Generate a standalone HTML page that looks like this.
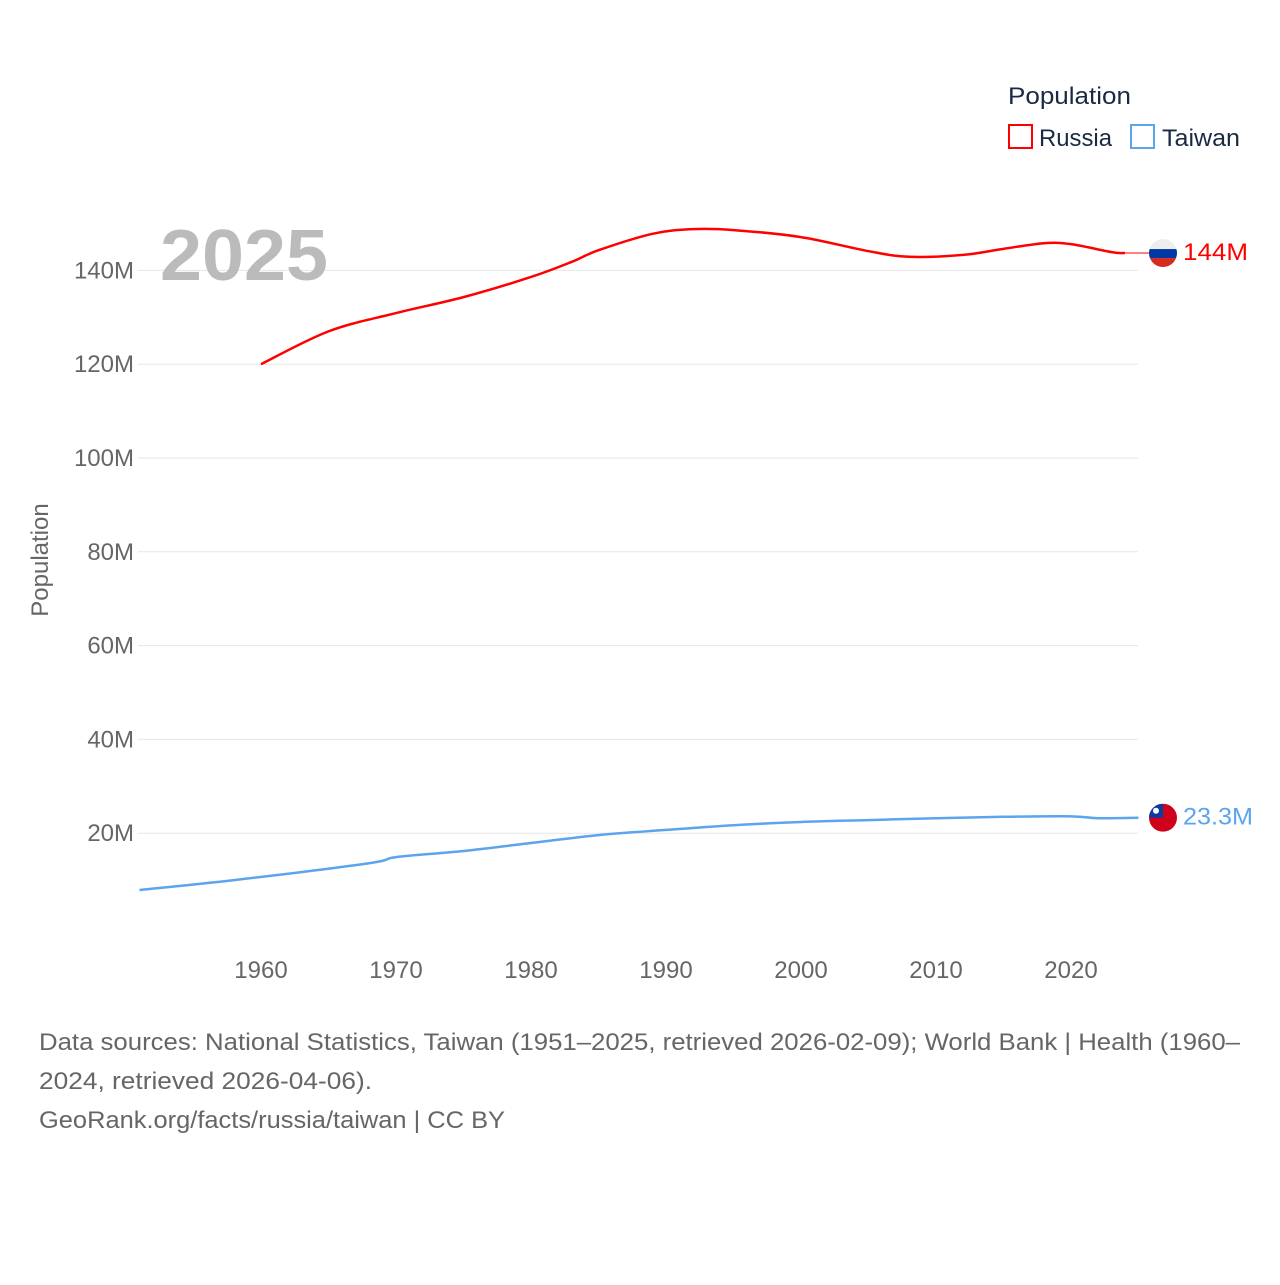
<!DOCTYPE html>
<html><head><meta charset="utf-8"><style>
body{margin:0;background:#fff;font-family:"Liberation Sans",sans-serif;}
svg text{font-family:"Liberation Sans",sans-serif;}
</style></head><body>
<svg width="1280" height="1280">
<g id="grid"></g>
<g id="yt"></g>
<g id="xt"></g>
<text x="48" y="560" transform="rotate(-90 48 560)" text-anchor="middle" font-size="24" fill="#666">Population</text>
<text x="160" y="280" font-size="72" font-weight="bold" fill="#bbb" textLength="168" lengthAdjust="spacingAndGlyphs">2025</text>
<g id="series"></g>
<g>
<text x="1008" y="104" font-size="24" fill="#1a2a44" textLength="123" lengthAdjust="spacingAndGlyphs">Population</text>
<g><rect x="1009" y="125" width="23" height="23" fill="none" stroke="#f00" stroke-width="2"/><text x="1039" y="146" font-size="24" fill="#1a2a44" textLength="73" lengthAdjust="spacingAndGlyphs">Russia</text></g>
<g><rect x="1131" y="125" width="23" height="23" fill="none" stroke="#5aa5ee" stroke-width="2"/><text x="1162" y="146" font-size="24" fill="#1a2a44" textLength="78" lengthAdjust="spacingAndGlyphs">Taiwan</text></g>
</g>
<g font-size="24" fill="#666">
<text x="39" y="1050" textLength="1201" lengthAdjust="spacingAndGlyphs">Data sources: National Statistics, Taiwan (1951–2025, retrieved 2026-02-09); World Bank | Health (1960–</text>
<text x="39" y="1089" textLength="333" lengthAdjust="spacingAndGlyphs">2024, retrieved 2026-04-06).</text>
<text x="39" y="1128" textLength="466" lengthAdjust="spacingAndGlyphs">GeoRank.org/facts/russia/taiwan | CC BY</text>
</g>
</svg>
<script>
const yTicks=[20,40,60,80,100,120,140];
const xTicks=[1960,1970,1980,1990,2000,2010,2020];
const russiaYears=[1960,1965,1970,1975,1980,1983,1985,1989,1992,1995,2000,2005,2008,2012,2015,2018,2020,2023,2024];
const russiaVals=[120.0,127.0,130.9,134.3,138.6,141.8,144.3,147.8,148.8,148.6,147.1,144.1,142.9,143.3,144.6,145.8,145.6,143.9,143.7];
const taiwanYears=[1951,1958,1968,1970,1975,1980,1985,1990,1995,2000,2005,2010,2015,2020,2022,2025];
const taiwanVals=[7.9,10.0,13.6,14.9,16.2,17.9,19.6,20.7,21.7,22.4,22.8,23.2,23.5,23.6,23.2,23.3];
const NS="http://www.w3.org/2000/svg";
const X=y=>261+(y-1960)*13.5, Y=v=>927-v*4.69;
function mk(t,a,p){const e=document.createElementNS(NS,t);for(const k in a)e.setAttribute(k,a[k]);p.appendChild(e);return e;}
const grid=document.getElementById('grid'),yt=document.getElementById('yt'),xt=document.getElementById('xt'),ser=document.getElementById('series');
yTicks.forEach(v=>{
 const l=mk('line',{x1:138,x2:1138,y1:Y(v),y2:Y(v),stroke:'#e6e6e6'},grid);
 
 
 const t=mk('text',{x:134,y:Y(v)+8,'text-anchor':'end','font-size':24,fill:'#666'},yt);t.textContent=v+'M';
 
 
});
xTicks.forEach(v=>{
 const t=mk('text',{x:X(v),y:978,'text-anchor':'middle','font-size':24,fill:'#666'},xt);t.textContent=v;
 
 
});
function smooth(pts){
 let d='M'+pts[0][0]+','+pts[0][1];
 for(let i=0;i<pts.length-1;i++){
  const p0=pts[i-1]||pts[i],p1=pts[i],p2=pts[i+1],p3=pts[i+2]||p2;
  const c1=[p1[0]+(p2[0]-p0[0])/6,p1[1]+(p2[1]-p0[1])/6];
  const c2=[p2[0]-(p3[0]-p1[0])/6,p2[1]-(p3[1]-p1[1])/6];
  d+='C'+c1+' '+c2+' '+p2;
 }
 return d;
}
function line(ys,vs,c,name){
 const p=mk('path',{d:smooth(ys.map((y,i)=>[X(y),Y(vs[i])])),fill:'none',stroke:c,'stroke-width':2.5,'stroke-linejoin':'round'},ser);
 
 
}
line(russiaYears,russiaVals,'#f00','russia-line');
line(taiwanYears,taiwanVals,'#5aa5ee','taiwan-line');
const rv=russiaVals[russiaVals.length-1],ry=Y(rv);
mk('line',{x1:X(russiaYears[russiaYears.length-1]),x2:1150,y1:ry,y2:ry,stroke:'#f00','stroke-width':1},ser);
mk('defs',{},ser).innerHTML='<clipPath id="c1"><circle cx="1163" cy="'+ry+'" r="14"/></clipPath><clipPath id="c2"><circle cx="1163" cy="'+Y(23.3)+'" r="14"/></clipPath>';
const f1=mk('g',{'clip-path':'url(#c1)'},ser);


mk('rect',{x:1149,y:ry-14,width:28,height:10,fill:'#eee'},f1);
mk('rect',{x:1149,y:ry-4,width:28,height:9,fill:'#0039a6'},f1);
mk('rect',{x:1149,y:ry+5,width:28,height:10,fill:'#d52b1e'},f1);
const t1=mk('text',{x:1183,y:ry+7,'font-size':24,fill:'#f00',textLength:65,lengthAdjust:'spacingAndGlyphs'},ser);t1.textContent=Math.round(rv)+'M';


const ty=Y(taiwanVals[taiwanVals.length-1]);
const f2=mk('g',{'clip-path':'url(#c2)'},ser);


mk('rect',{x:1149,y:ty-14,width:28,height:28,fill:'#d0021b'},f2);
mk('rect',{x:1149,y:ty-14,width:14,height:14,fill:'#0d3b9e'},f2);
mk('circle',{cx:1156,cy:ty-7,r:3,fill:'#fff'},f2);
const t2=mk('text',{x:1183,y:ty+7,'font-size':24,fill:'#5aa5ee',textLength:70,lengthAdjust:'spacingAndGlyphs'},ser);t2.textContent=taiwanVals[taiwanVals.length-1]+'M';


</script>
</body></html>
